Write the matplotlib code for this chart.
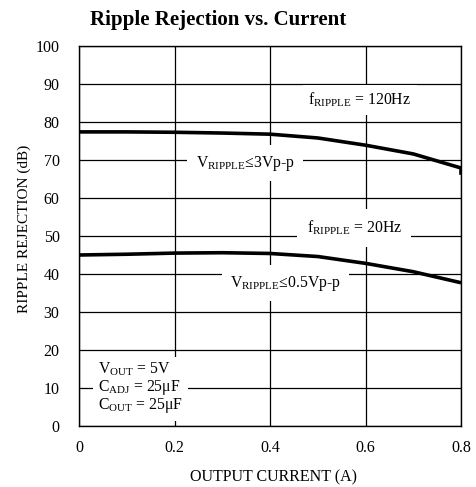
import matplotlib
matplotlib.use("Agg")
import matplotlib.pyplot as plt

plt.rcParams['font.family'] = ['Liberation Serif', 'DejaVu Serif']
plt.rcParams['mathtext.fontset'] = 'custom'
plt.rcParams['mathtext.rm'] = 'Liberation Serif'
plt.rcParams['mathtext.it'] = 'Liberation Serif:italic'
plt.rcParams['mathtext.bf'] = 'Liberation Serif:bold'

current = [0.0, 0.1, 0.2, 0.3, 0.4, 0.5, 0.6, 0.7, 0.8]
rej_120hz = [77.4, 77.4, 77.3, 77.1, 76.8, 75.8, 73.9, 71.6, 67.9]
rej_20hz = [45.0, 45.2, 45.5, 45.6, 45.4, 44.6, 42.8, 40.6, 37.7]

xticks = [0, 0.2, 0.4, 0.6, 0.8]
xticklabels = ['0', '0.2', '0.4', '0.6', '0.8']
yticks = list(range(0, 101, 10))

fig = plt.figure(figsize=(4.76, 4.87), dpi=100)
ax = fig.add_axes([0.166, 0.1253, 0.8025, 0.7802])

ax.plot(current, rej_120hz, color='black', lw=2.6, solid_capstyle='butt', zorder=3)
ax.plot(current, rej_20hz, color='black', lw=2.6, solid_capstyle='butt', zorder=3)
# small end tick at right end of 120Hz curve
ax.plot([0.8, 0.8], [rej_120hz[-1], 66.5], color='black', lw=2.6, zorder=3)

ax.set_xlim(0, 0.8)
ax.set_ylim(0, 100)
ax.set_xticks(xticks)
ax.set_xticklabels(xticklabels)
ax.set_yticks(yticks)
ax.grid(True, color='black', lw=0.9)
ax.set_axisbelow(True)
ax.tick_params(axis='y', length=0, labelsize=11.5, pad=14)
ax.tick_params(axis='x', length=0, labelsize=11.5, pad=10)
for s in ax.spines.values():
    s.set_linewidth(1.0)

fs = 11.3
ax.text(0.588, 85.8, r'f$_{\rm RIPPLE}$ = 120Hz', ha='center', va='center', fontsize=fs,
        bbox=dict(facecolor='white', edgecolor='none', pad=4), zorder=4)
ax.text(0.348, 69.2, r'V$_{\rm RIPPLE}$≤3Vp-p', ha='center', va='center', fontsize=fs,
        bbox=dict(facecolor='white', edgecolor='none', pad=6), zorder=4)
ax.text(0.576, 52.1, r'f$_{\rm RIPPLE}$ = 20Hz', ha='center', va='center', fontsize=fs,
        bbox=dict(facecolor='white', edgecolor='none', pad=7), zorder=4)
ax.text(0.433, 37.6, r'V$_{\rm RIPPLE}$≤0.5Vp-p', ha='center', va='center', fontsize=fs,
        bbox=dict(facecolor='white', edgecolor='none', pad=6), zorder=4)
ax.text(0.04, 10.0, 'V$_{\\rm OUT}$ = 5V\nC$_{\\rm ADJ}$ = 25μF\nC$_{\\rm OUT}$ = 25μF',
        ha='left', va='center', fontsize=fs, linespacing=0.95,
        bbox=dict(facecolor='white', edgecolor='none', pad=4), zorder=4)

ax.set_xlabel('OUTPUT CURRENT (A)', fontsize=11.5)
ax.xaxis.set_label_coords(0.51, -0.113)
ax.set_ylabel('RIPPLE REJECTION (dB)', fontsize=11)
ax.yaxis.set_label_coords(-0.127, 0.518)
fig.text(0.458, 0.958, 'Ripple Rejection vs. Current', ha='center', va='center',
         fontsize=15, fontweight='bold')

fig.savefig('out.png', dpi=100)
